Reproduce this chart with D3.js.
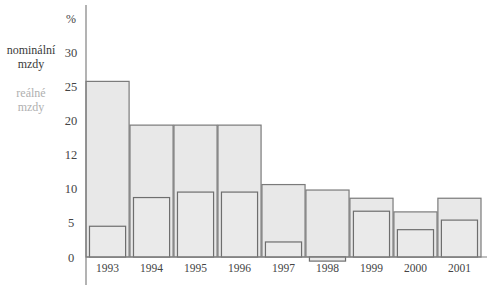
<!DOCTYPE html>
<html>
<head>
<meta charset="utf-8">
<script src="https://cdn.jsdelivr.net/npm/d3@7"></script>
<style>
  body { margin: 0; background: #fff; }
  svg, svg text { font-family: "Liberation Serif", "Times New Roman", serif !important; }
</style>
</head>
<body>
<div id="chart"></div>
<script>
const years = ["1993", "1994", "1995", "1996", "1997", "1998", "1999", "2000", "2001"]
const nominal = [25.7, 19.3, 19.3, 19.3, 10.6, 9.8, 8.6, 6.6, 8.6]
const real = [4.5, 8.7, 9.5, 9.5, 2.2, -0.6, 6.7, 4.0, 5.4]
const tickValues = [0, 5, 10, 15, 20, 25, 30]
const tickLabels = ["0", "5", "10", "12", "20", "25", "30"]

const width = 496
const height = 285
const margin = { top: 52, right: 15, bottom: 28, left: 86 }

const svg = d3.select("#chart").append("svg")
  .attr("width", width)
  .attr("height", height)

const x = d3.scaleBand()
  .domain(years)
  .range([margin.left, 481])
  .paddingInner(0.02)

const y = d3.scaleLinear()
  .domain([0, 30])
  .range([257, 52])

// nominal wage bars
svg.append("g").selectAll("rect")
  .data(years)
  .join("rect")
  .attr("x", d => x(d))
  .attr("y", (d, i) => y(nominal[i]))
  .attr("width", x.bandwidth())
  .attr("height", (d, i) => y(0) - y(nominal[i]))
  .attr("fill", "#e8e8e8")
  .attr("stroke", "#7a7a7a")
  .attr("stroke-width", 1.2)

// real wage bars, inset inside the nominal ones
const inset = 3.5
svg.append("g").selectAll("rect")
  .data(years)
  .join("rect")
  .attr("x", d => x(d) + inset)
  .attr("y", (d, i) => y(Math.max(0, real[i])))
  .attr("width", x.bandwidth() - inset * 2)
  .attr("height", (d, i) => Math.abs(y(0) - y(real[i])))
  .attr("fill", "#eaeaea")
  .attr("stroke", "#6e6e6e")
  .attr("stroke-width", 1.2)

// baseline
svg.append("line")
  .attr("x1", margin.left).attr("x2", 487)
  .attr("y1", y(0)).attr("y2", y(0))
  .attr("stroke", "#808080")
  .attr("stroke-width", 1.2)

// y axis
const yAxis = d3.axisLeft(y)
  .tickValues(tickValues)
  .tickSize(0)
  .tickPadding(11)
  .tickFormat((d, i) => tickLabels[i])

const yg = svg.append("g")
  .attr("transform", "translate(" + margin.left + ",0)")
  .call(yAxis)
  .attr("font-family", null)
yg.select(".domain").remove()
yg.selectAll("text")
  .attr("text-anchor", "middle")
  .attr("x", -15)
  .attr("font-size", 12.5)
  .attr("fill", "#444")

svg.append("line")
  .attr("x1", margin.left).attr("x2", margin.left)
  .attr("y1", 5).attr("y2", height)
  .attr("stroke", "#808080")
  .attr("stroke-width", 1.2)

svg.append("text")
  .attr("x", 71).attr("y", 19)
  .attr("dy", "0.35em")
  .attr("text-anchor", "middle")
  .attr("font-size", 12)
  .attr("fill", "#444")
  .text("%")

// x axis labels
const xAxis = d3.axisBottom(x).tickSize(0).tickPadding(7)
const xg = svg.append("g")
  .attr("transform", "translate(0," + y(0) + ")")
  .call(xAxis)
  .attr("font-family", null)
xg.select(".domain").remove()
xg.selectAll("text")
  .attr("font-size", 11.5)
  .attr("fill", "#444")

// legend
const legend = [
  { lines: ["nominální", "mzdy"], y: 50, color: "#3a3a3a" },
  { lines: ["reálné", "mzdy"], y: 93, color: "#b0b0b0" }
]
legend.forEach(l => {
  l.lines.forEach((t, j) => {
    svg.append("text")
      .attr("x", 31)
      .attr("y", l.y + j * 13.5)
      .attr("dy", "0.35em")
      .attr("text-anchor", "middle")
      .attr("font-size", 12)
      .attr("fill", l.color)
      .text(t)
  })
})
</script>
</body>
</html>
